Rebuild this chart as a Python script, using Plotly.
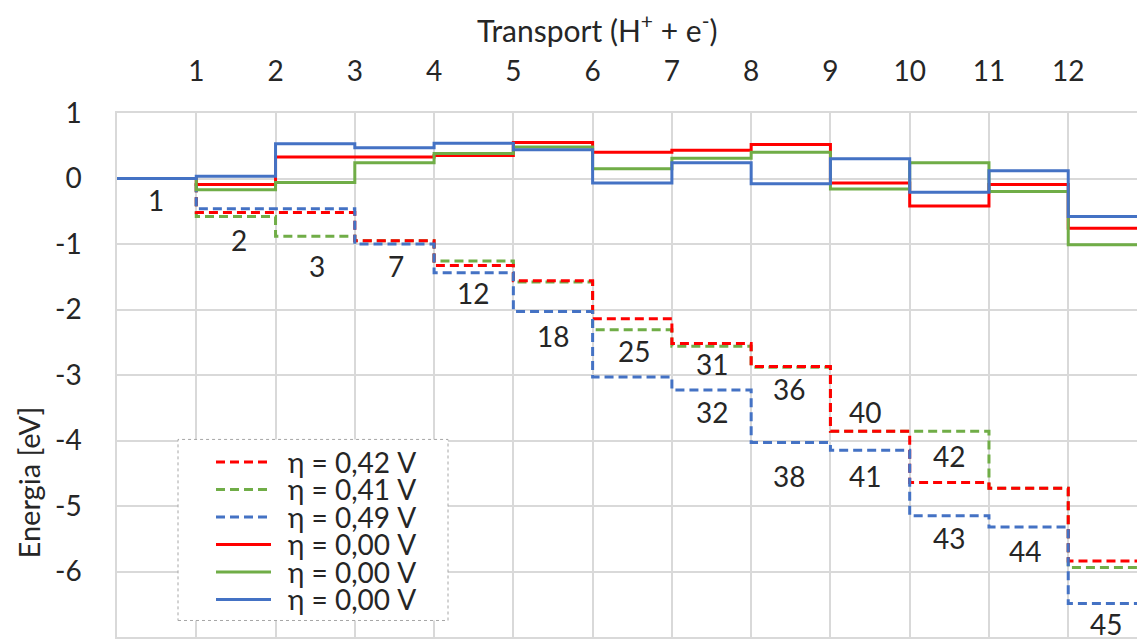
import plotly.graph_objects as go

# ---- data ----
steps = list(range(0, 14))  # step boundaries 0..13
x_tick_vals = list(range(1, 13))
x_tick_labels = [str(i) for i in range(1, 13)]
y_tick_vals = [1, 0, -1, -2, -3, -4, -5, -6, -7]
y_tick_labels = ["1", "0", "-1", "-2", "-3", "-4", "-5", "-6", "-7"]

red_dash = [0, -0.52, -0.52, -0.95, -1.33, -1.56, -2.14, -2.52, -2.87, -3.86, -4.64, -4.73, -5.84]
green_dash = [0, -0.58, -0.88, -0.95, -1.26, -1.58, -2.31, -2.56, -2.88, -3.86, -3.86, -4.73, -5.94]
blue_dash = [0, -0.46, -0.46, -1.00, -1.44, -2.03, -3.03, -3.23, -4.03, -4.15, -5.15, -5.32, -6.49]
red_solid = [0, -0.09, 0.33, 0.33, 0.35, 0.55, 0.40, 0.43, 0.52, -0.07, -0.42, -0.09, -0.76]
green_solid = [0, -0.17, -0.06, 0.24, 0.38, 0.48, 0.15, 0.31, 0.40, -0.16, 0.24, -0.20, -1.01]
blue_solid = [0, 0.035, 0.53, 0.47, 0.54, 0.44, -0.07, 0.24, -0.08, 0.30, -0.21, 0.12, -0.58]

series_names = ["η = 0,42 V", "η = 0,41 V", "η = 0,49 V", "η = 0,00 V", "η = 0,00 V", "η = 0,00 V"]

label_text = ["1", "2", "3", "7", "12", "18", "25", "31", "32", "36", "40", "38", "41", "42", "43", "44", "45"]
label_x = [0.49, 1.54, 2.52, 3.52, 4.49, 5.5, 6.52, 7.5, 7.51, 8.48, 9.44, 8.48, 9.44, 10.5, 10.5, 11.45, 12.47]
label_y = [-0.33, -0.94, -1.33, -1.33, -1.75, -2.41, -2.63, -2.83, -3.57, -3.22, -3.57, -4.54, -4.54, -4.24, -5.49, -5.68, -6.80]

RED, GREEN, BLUE = "#FF0000", "#70AD47", "#4472C4"
DASH = "9px,5px"
FONT = "Lato, 'Open Sans', sans-serif"
TXT = "#262626"
GRID = "#D9D9D9"

specs = [
    (series_names[0], red_dash, RED, DASH),
    (series_names[1], green_dash, GREEN, DASH),
    (series_names[2], blue_dash, BLUE, DASH),
    (series_names[3], red_solid, RED, "solid"),
    (series_names[4], green_solid, GREEN, "solid"),
    (series_names[5], blue_solid, BLUE, "solid"),
]
# drawing order (green dashed beneath red dashed, as in the reference)
draw_order = [1, 0, 2, 3, 4, 5]

fig = go.Figure()
for i in draw_order:
    name, vals, col, dash = specs[i]
    fig.add_trace(go.Scatter(
        x=steps, y=vals + [vals[-1]], mode="lines", name=name,
        line=dict(color=col, width=3, dash=dash, shape="hv"),
        showlegend=False, hoverinfo="skip",
    ))

for t, lx, ly in zip(label_text, label_x, label_y):
    fig.add_annotation(x=lx, y=ly, text=t, showarrow=False,
                       font=dict(size=28, color=TXT, family=FONT))

# ---- legend (drawn manually to match sample length/spacing) ----
L = 117.0; R = 1137.0; T = 112.7; B = 636.5
def px(x): return (x - L) / (R - L)
def py(y): return (B - y) / (B - T)

fig.add_shape(type="rect", xref="paper", yref="paper",
              x0=px(178), x1=px(448), y0=py(620), y1=py(439),
              line=dict(color="#A6A6A6", width=1, dash="dot"), fillcolor="white", layer="above")
for k, (name, vals, col, dash) in enumerate(specs):
    yy = py(461.5 + 27.5 * k)
    fig.add_shape(type="line", xref="paper", yref="paper",
                  x0=px(216), x1=px(271), y0=yy, y1=yy,
                  line=dict(color=col, width=3, dash=DASH if dash != "solid" else "solid"), layer="above")
    fig.add_annotation(xref="paper", yref="paper", x=px(286), y=yy, text=name,
                       xanchor="left", yanchor="middle", showarrow=False,
                       font=dict(size=28, color=TXT, family=FONT))

# axis titles
fig.add_annotation(xref="paper", yref="paper", x=px(597), y=py(28),
                   text="Transport (H<sup>+</sup> + e<sup>-</sup>)", showarrow=False,
                   xanchor="center", yanchor="middle",
                   font=dict(size=30, color=TXT, family=FONT))
fig.add_annotation(xref="paper", yref="paper", x=px(28), y=py(482),
                   text="Energia [eV]", textangle=-90, showarrow=False,
                   xanchor="center", yanchor="middle",
                   font=dict(size=29, color=TXT, family=FONT))

fig.update_layout(
    width=1137, height=644,
    margin=dict(l=117, r=0, t=113, b=7),
    paper_bgcolor="white", plot_bgcolor="white",
    font=dict(family=FONT, size=28, color=TXT),
    showlegend=False,
    xaxis=dict(side="top", range=[0, (R - L) / 79.27],
               tickmode="array", tickvals=x_tick_vals, ticktext=x_tick_labels,
               showgrid=True, gridcolor=GRID, gridwidth=1.5,
               zeroline=True, zerolinecolor=GRID, zerolinewidth=1.5,
               showline=True, linecolor=GRID, linewidth=1.5, mirror=True,
               ticks="", ticklabelstandoff=19,
               tickfont=dict(size=28, color=TXT, family=FONT)),
    yaxis=dict(range=[-7, 1], tickmode="array", tickvals=y_tick_vals, ticktext=y_tick_labels,
               showgrid=True, gridcolor=GRID, gridwidth=1.5,
               zeroline=True, zerolinecolor=GRID, zerolinewidth=1.5,
               showline=True, linecolor=GRID, linewidth=1.5,
               ticks="", ticklabelstandoff=28,
               tickfont=dict(size=28, color=TXT, family=FONT)),
)

fig.write_html("out.html")
